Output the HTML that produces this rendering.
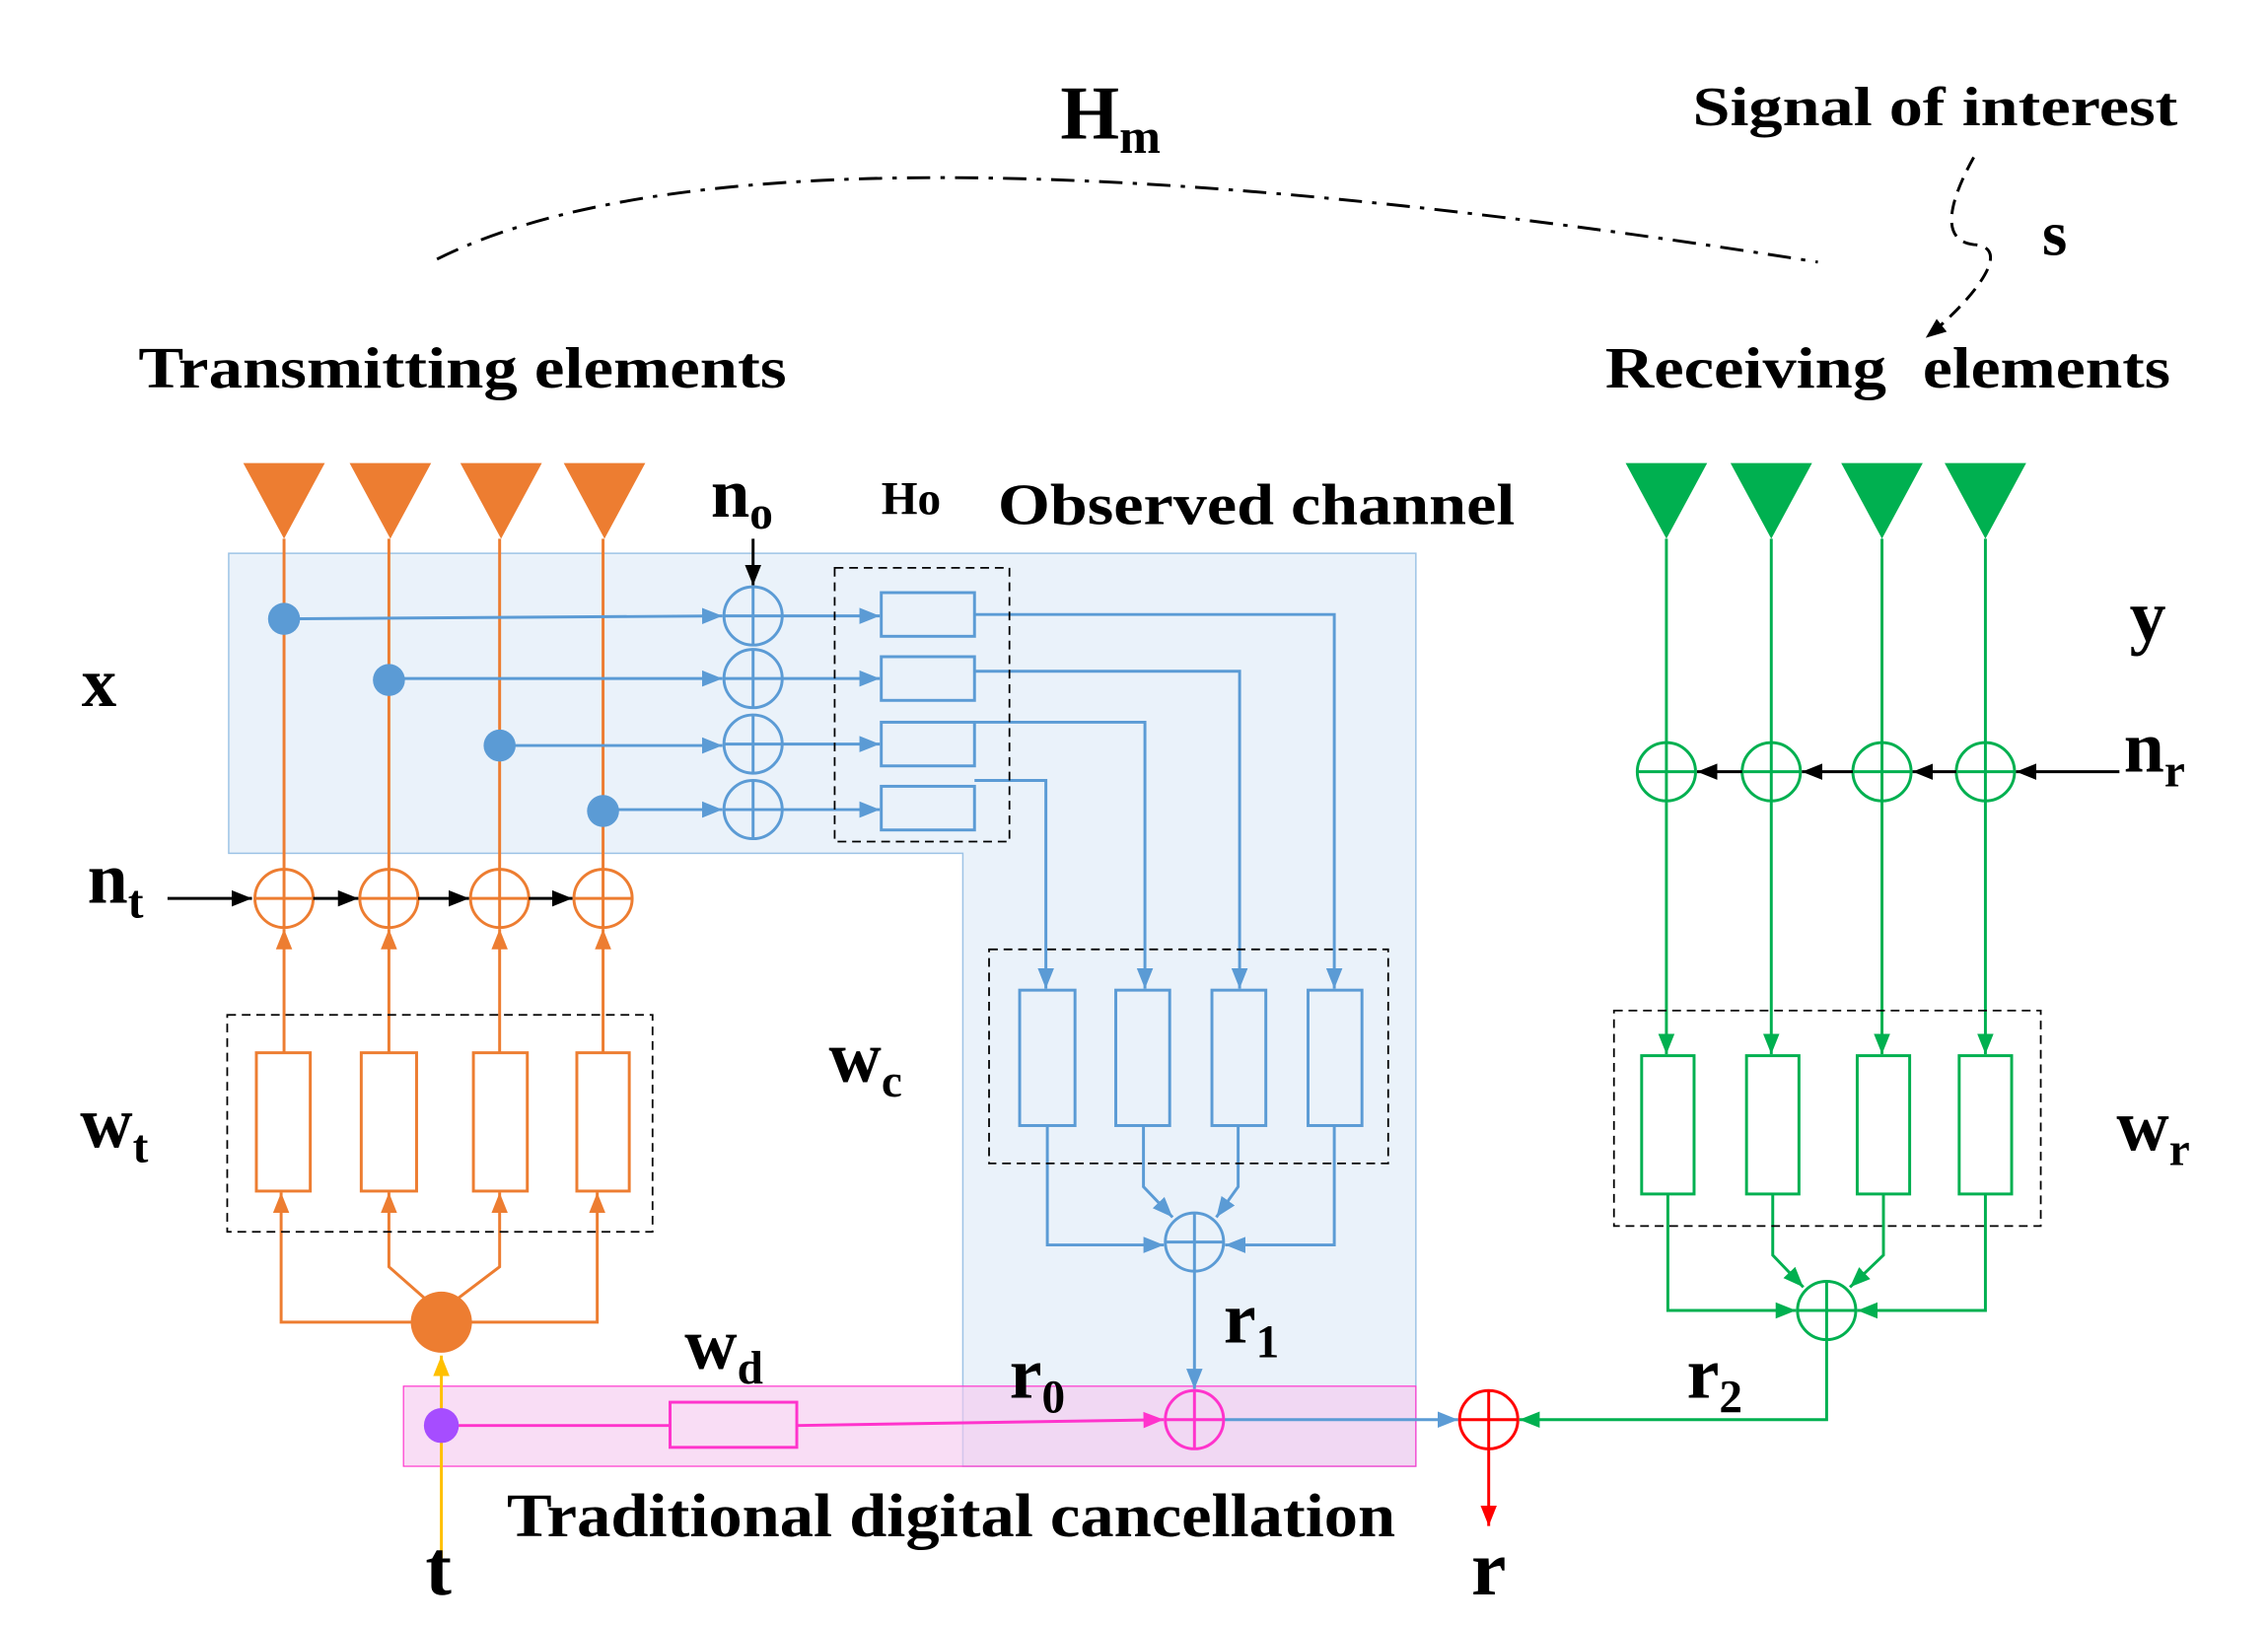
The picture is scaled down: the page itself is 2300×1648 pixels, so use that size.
<!DOCTYPE html>
<html><head><meta charset="utf-8"><style>
html,body{margin:0;padding:0;background:#fff;}
svg{display:block;}
text{font-family:"Liberation Serif",serif;font-weight:bold;fill:#000;}
</style></head><body>
<svg width="2300" height="1648" viewBox="0 0 1557 1116" preserveAspectRatio="none" xmlns="http://www.w3.org/2000/svg">
<defs>
<marker id="ab" viewBox="0 0 10 10" refX="10" refY="5" markerWidth="7" markerHeight="7" orient="auto-start-reverse"><path d="M0,1L10,5L0,9z" fill="#5b9bd5"/></marker>
<marker id="ao" viewBox="0 0 10 10" refX="10" refY="5" markerWidth="7" markerHeight="7" orient="auto"><path d="M0,1L10,5L0,9z" fill="#ed7d31"/></marker>
<marker id="ag" viewBox="0 0 10 10" refX="10" refY="5" markerWidth="7" markerHeight="7" orient="auto"><path d="M0,1L10,5L0,9z" fill="#00b050"/></marker>
<marker id="ak" viewBox="0 0 10 10" refX="10" refY="5" markerWidth="7" markerHeight="7" orient="auto"><path d="M0,1L10,5L0,9z" fill="#000"/></marker>
<marker id="ap" viewBox="0 0 10 10" refX="10" refY="5" markerWidth="7" markerHeight="7" orient="auto"><path d="M0,1L10,5L0,9z" fill="#ff33cc"/></marker>
<marker id="ar" viewBox="0 0 10 10" refX="10" refY="5" markerWidth="7" markerHeight="7" orient="auto"><path d="M0,1L10,5L0,9z" fill="#ff0000"/></marker>
<marker id="ay" viewBox="0 0 10 10" refX="10" refY="5" markerWidth="7" markerHeight="7" orient="auto"><path d="M0,1L10,5L0,9z" fill="#ffc000"/></marker>
</defs>

<path d="M157,380H972V1007H661V586H157Z" fill="#dce9f6" fill-opacity="0.6" stroke="#9dc3e6" stroke-width="1"/>
<rect x="277" y="952" width="695" height="55" fill="#f5c6ee" fill-opacity="0.6" stroke="#ff33cc" stroke-width="0.8"/>

<path d="M300,178 Q526,65 1248,180" fill="none" stroke="#000" stroke-width="2" stroke-dasharray="16,7,3,7"/>
<text x="728" y="95" font-size="52">H<tspan font-size="34" dy="10">m</tspan></text>
<text x="1162" y="86" font-size="38" textLength="333" lengthAdjust="spacingAndGlyphs">Signal of interest</text>
<path d="M1355,108 C1340,135 1330,165 1355,168 C1385,170 1350,210 1322,232" fill="none" stroke="#000" stroke-width="2" stroke-dasharray="10,6" marker-end="url(#ak)"/>
<text x="1402" y="175" font-size="44">s</text>
<text x="95" y="266" font-size="40" textLength="445" lengthAdjust="spacingAndGlyphs">Transmitting elements</text>
<text x="1102" y="266" font-size="40" textLength="193" lengthAdjust="spacingAndGlyphs">Receiving</text>
<text x="1320" y="266" font-size="40" textLength="170" lengthAdjust="spacingAndGlyphs">elements</text>

<g fill="#ed7d31">
<path d="M167,318H223L195,370Z"/><path d="M240,318H296L268,370Z"/><path d="M316,318H372L344,370Z"/><path d="M387,318H443L415,370Z"/>
</g>
<g stroke="#ed7d31" stroke-width="2" fill="none">
<path d="M195,370V597M267,370V597M343,370V597M414,370V597"/>
<circle cx="195" cy="617" r="20"/><circle cx="267" cy="617" r="20"/><circle cx="343" cy="617" r="20"/><circle cx="414" cy="617" r="20"/>
<path d="M175,617H215M195,597V637M247,617H287M267,597V637M323,617H363M343,597V637M394,617H434M414,597V637"/>
<path d="M195,723V638" marker-end="url(#ao)"/><path d="M267,723V638" marker-end="url(#ao)"/><path d="M343,723V638" marker-end="url(#ao)"/><path d="M414,723V638" marker-end="url(#ao)"/>
<rect x="176" y="723" width="37" height="95"/><rect x="248" y="723" width="38" height="95"/><rect x="325" y="723" width="37" height="95"/><rect x="396" y="723" width="36" height="95"/>
<path d="M284,908H193V819" marker-end="url(#ao)"/><path d="M322,908H410V819" marker-end="url(#ao)"/>
<path d="M292,892L267,870V819" marker-end="url(#ao)"/><path d="M314,892L343,870V819" marker-end="url(#ao)"/>
</g>
<circle cx="303" cy="908" r="21" fill="#ed7d31"/>
<rect x="156" y="697" width="292" height="149" fill="none" stroke="#000" stroke-dasharray="6,4" stroke-width="1.2"/>
<path d="M303,1070V931" stroke="#ffc000" stroke-width="2" marker-end="url(#ay)"/>

<g stroke="#000" stroke-width="2">
<path d="M115,617H173" marker-end="url(#ak)"/><path d="M215,617H246" marker-end="url(#ak)"/><path d="M287,617H322" marker-end="url(#ak)"/><path d="M363,617H393" marker-end="url(#ak)"/>
<path d="M517,370V402" marker-end="url(#ak)"/>
</g>

<g stroke="#5b9bd5" stroke-width="2" fill="none">
<path d="M195,425L496,423" marker-end="url(#ab)"/><path d="M267,466H496" marker-end="url(#ab)"/><path d="M343,512H496" marker-end="url(#ab)"/><path d="M414,556H496" marker-end="url(#ab)"/>
<circle cx="517" cy="423" r="20"/><circle cx="517" cy="466" r="20"/><circle cx="517" cy="511" r="20"/><circle cx="517" cy="556" r="20"/>
<path d="M497,423H537M517,403V443M497,466H537M517,446V486M497,511H537M517,491V531M497,556H537M517,536V576"/>
<path d="M537,423H604" marker-end="url(#ab)"/><path d="M537,466H604" marker-end="url(#ab)"/><path d="M537,511H604" marker-end="url(#ab)"/><path d="M537,556H604" marker-end="url(#ab)"/>
<rect x="605" y="407" width="64" height="30"/><rect x="605" y="451" width="64" height="30"/><rect x="605" y="496" width="64" height="30"/><rect x="605" y="540" width="64" height="30"/>
<path d="M669,422H916V679" marker-end="url(#ab)"/><path d="M669,461H851V679" marker-end="url(#ab)"/><path d="M669,496H786V679" marker-end="url(#ab)"/><path d="M669,536H718V679" marker-end="url(#ab)"/>
<rect x="700" y="680" width="38" height="93"/><rect x="766" y="680" width="37" height="93"/><rect x="832" y="680" width="37" height="93"/><rect x="898" y="680" width="37" height="93"/>
<circle cx="820" cy="853" r="20"/><path d="M800,853H840M820,833V873"/>
<path d="M719,773V855H799" marker-end="url(#ab)"/><path d="M916,773V855H841" marker-end="url(#ab)"/>
<path d="M785,773V815L805,836" marker-end="url(#ab)"/><path d="M850,773V815L835,836" marker-end="url(#ab)"/>
<path d="M820,873V954" marker-end="url(#ab)"/>
<path d="M840,975H1001" marker-end="url(#ab)"/>
</g>
<g fill="#5b9bd5"><circle cx="195" cy="425" r="11"/><circle cx="267" cy="467" r="11"/><circle cx="343" cy="512" r="11"/><circle cx="414" cy="557" r="11"/></g>
<rect x="573" y="390" width="120" height="188" fill="none" stroke="#000" stroke-dasharray="6,4" stroke-width="1.2"/>
<rect x="679" y="652" width="274" height="147" fill="none" stroke="#000" stroke-dasharray="6,4" stroke-width="1.2"/>

<g stroke="#ff33cc" stroke-width="2" fill="none">
<path d="M303,979H460"/><rect x="460" y="963" width="87" height="31"/>
<path d="M547,979L799,975" marker-end="url(#ap)"/>
<circle cx="820" cy="975" r="20"/><path d="M800,975H840M820,955V995"/>
</g>
<circle cx="303" cy="979" r="12" fill="#a64dff"/>

<g stroke="#ff0000" stroke-width="2" fill="none">
<circle cx="1022" cy="975" r="20"/><path d="M1002,975H1042M1022,955V995"/>
<path d="M1022,995V1048" marker-end="url(#ar)"/>
</g>

<g fill="#00b050">
<path d="M1116,318H1172L1144,370Z"/><path d="M1188,318H1244L1216,370Z"/><path d="M1264,318H1320L1292,370Z"/><path d="M1335,318H1391L1363,370Z"/>
</g>
<g stroke="#00b050" stroke-width="2" fill="none">
<path d="M1144,370V724" marker-end="url(#ag)"/><path d="M1216,370V724" marker-end="url(#ag)"/><path d="M1292,370V724" marker-end="url(#ag)"/><path d="M1363,370V724" marker-end="url(#ag)"/>
<circle cx="1144" cy="530" r="20"/><circle cx="1216" cy="530" r="20"/><circle cx="1292" cy="530" r="20"/><circle cx="1363" cy="530" r="20"/>
<path d="M1124,530H1164M1196,530H1236M1272,530H1312M1343,530H1383"/>
<rect x="1127" y="725" width="36" height="95"/><rect x="1199" y="725" width="36" height="95"/><rect x="1275" y="725" width="36" height="95"/><rect x="1345" y="725" width="36" height="95"/>
<circle cx="1254" cy="900" r="20"/><path d="M1234,900H1274M1254,880V920"/>
<path d="M1145,820V900H1233" marker-end="url(#ag)"/><path d="M1363,820V900H1275" marker-end="url(#ag)"/>
<path d="M1217,820V862L1238,884" marker-end="url(#ag)"/><path d="M1293,820V862L1270,884" marker-end="url(#ag)"/>
<path d="M1254,920V975H1043" marker-end="url(#ag)"/>
</g>
<g stroke="#000" stroke-width="2">
<path d="M1455,530H1384" marker-end="url(#ak)"/><path d="M1343,530H1313" marker-end="url(#ak)"/><path d="M1272,530H1237" marker-end="url(#ak)"/><path d="M1196,530H1165" marker-end="url(#ak)"/>
</g>
<rect x="1108" y="694" width="293" height="148" fill="none" stroke="#000" stroke-dasharray="6,4" stroke-width="1.2"/>

<text x="488" y="355" font-size="48">n<tspan font-size="32" dy="8">o</tspan></text>
<text x="605" y="353" font-size="32">Ho</text>
<text x="685" y="360" font-size="40" textLength="355" lengthAdjust="spacingAndGlyphs">Observed channel</text>
<text x="56" y="485" font-size="48">x</text>
<text x="60" y="620" font-size="50">n<tspan font-size="32" dy="10">t</tspan></text>
<text x="55" y="788" font-size="50">w<tspan font-size="32" dy="10">t</tspan></text>
<text x="569" y="743" font-size="50">w<tspan font-size="32" dy="10">c</tspan></text>
<text x="470" y="940" font-size="50">w<tspan font-size="32" dy="10">d</tspan></text>
<text x="693" y="960" font-size="50">r<tspan font-size="32" dy="10">0</tspan></text>
<text x="840" y="922" font-size="50">r<tspan font-size="32" dy="10">1</tspan></text>
<text x="1158" y="960" font-size="50">r<tspan font-size="32" dy="10">2</tspan></text>
<text x="1462" y="440" font-size="50">y</text>
<text x="1458" y="530" font-size="50">n<tspan font-size="32" dy="10">r</tspan></text>
<text x="1453" y="790" font-size="50">w<tspan font-size="32" dy="10">r</tspan></text>
<text x="348" y="1055" font-size="42" textLength="610" lengthAdjust="spacingAndGlyphs">Traditional digital cancellation</text>
<text x="292" y="1095" font-size="54">t</text>
<text x="1010" y="1095" font-size="54">r</text>
</svg>
</body></html>
